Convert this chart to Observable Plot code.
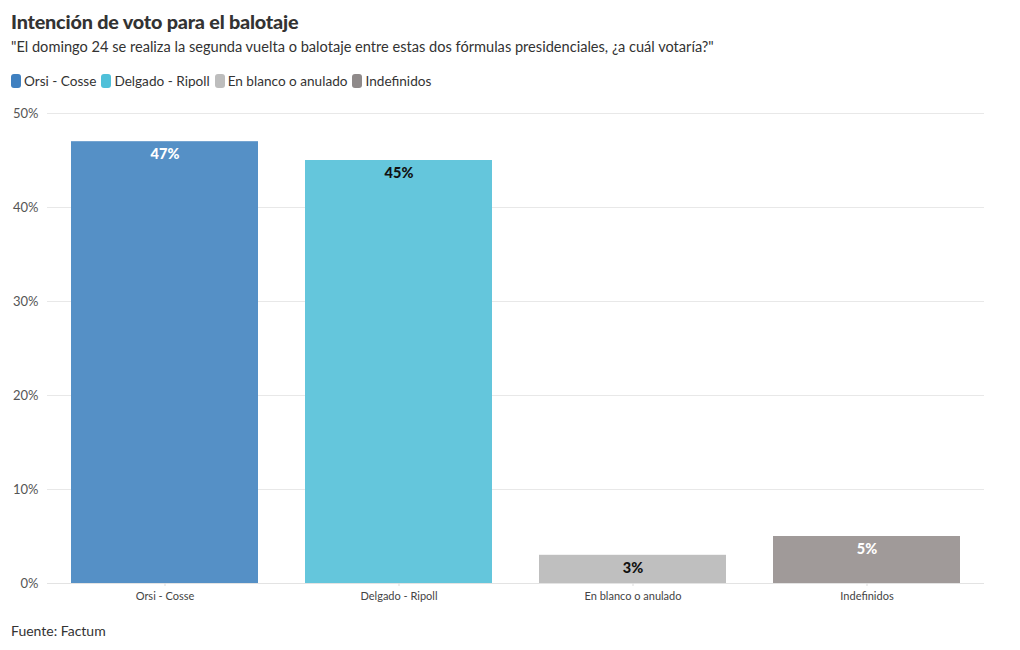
<!DOCTYPE html>
<html><head><meta charset="utf-8">
<script src="https://cdn.jsdelivr.net/npm/d3@7"></script>
<script src="https://cdn.jsdelivr.net/npm/@observablehq/plot@0.6"></script>
<style>
body{margin:0;background:#fff;font-family:Lato,"Open Sans",sans-serif;color:#333;}
#wrap{width:1020px;height:650px;position:relative;}
h1{margin:0;position:absolute;left:11px;top:9px;font-size:19.8px;font-weight:900;color:#333;letter-spacing:-0.2px;}
.sub{position:absolute;left:11px;top:38px;font-size:14.6px;color:#333;}
.legend{position:absolute;left:11px;top:73px;font-size:13.6px;color:#333;display:flex;gap:5px;}
.legend span{display:flex;align-items:center;}
.legend i{display:inline-block;width:10px;height:14px;border-radius:3px;margin-right:3px;}
#chart{position:absolute;left:0;top:100px;}
.foot{position:absolute;left:11px;top:622px;font-size:14px;color:#333;}
</style></head>
<body><div id="wrap">
<h1>Intención de voto para el balotaje</h1>
<div class="sub">"El domingo 24 se realiza la segunda vuelta o balotaje entre estas dos fórmulas presidenciales, ¿a cuál votaría?"</div>
<div class="legend" id="legend"></div>
<div id="chart"></div>
<div class="foot">Fuente: Factum</div>
</div>
<script>
const categories = ["Orsi - Cosse","Delgado - Ripoll","En blanco o anulado","Indefinidos"];
const values = [47,45,3,5];
const colors = ["#5590c6","#64c6dc","#bfbfbf","#a09a99"];
const legendColors = ["#3f80c0","#4fc0d9","#bdbdbd","#8f8a8a"];
const labelColors = ["#ffffff","#111111","#111111","#ffffff"];
const yTicks = [0,10,20,30,40,50];

const data = categories.map((c,i)=>({cat:c,value:values[i],color:colors[i],lc:labelColors[i]}));

const leg = document.getElementById("legend");
categories.forEach((c,i)=>{
  const s=document.createElement("span");
  s.innerHTML=`<i style="background:${legendColors[i]}"></i>${c}`;
  leg.appendChild(s);
});

const chart = Plot.plot({
  width:1020, height:513,
  marginLeft:47, marginRight:36, marginTop:13, marginBottom:30,
  style:{fontFamily:"Lato, 'Open Sans', sans-serif", background:"transparent"},
  x:{domain:categories, paddingInner:0.2, paddingOuter:0.1, label:null},
  y:{domain:[0,50], label:null},
  marks:[
    Plot.gridY(yTicks,{stroke:"#e8e8e8",strokeOpacity:1}),
    Plot.axisY(yTicks,{tickSize:0, tickPadding:9, tickFormat:d=>d+"%", fontSize:13, fill:"#555"}),
    Plot.barY(data,{x:"cat",y:"value",fill:d=>d.color}),
    Plot.ruleY([0],{stroke:"#e3e3e3"}),
    Plot.axisX({tickSize:3, stroke:"#ddd", tickPadding:6, fontSize:11, fill:"#444"}),
    Plot.text(data,{x:"cat",y:"value",text:d=>d.value+"%",fill:d=>d.lc,dy:13,fontSize:14.5,fontWeight:900})
  ]
});
document.getElementById("chart").appendChild(chart);
</script>
</body></html>
